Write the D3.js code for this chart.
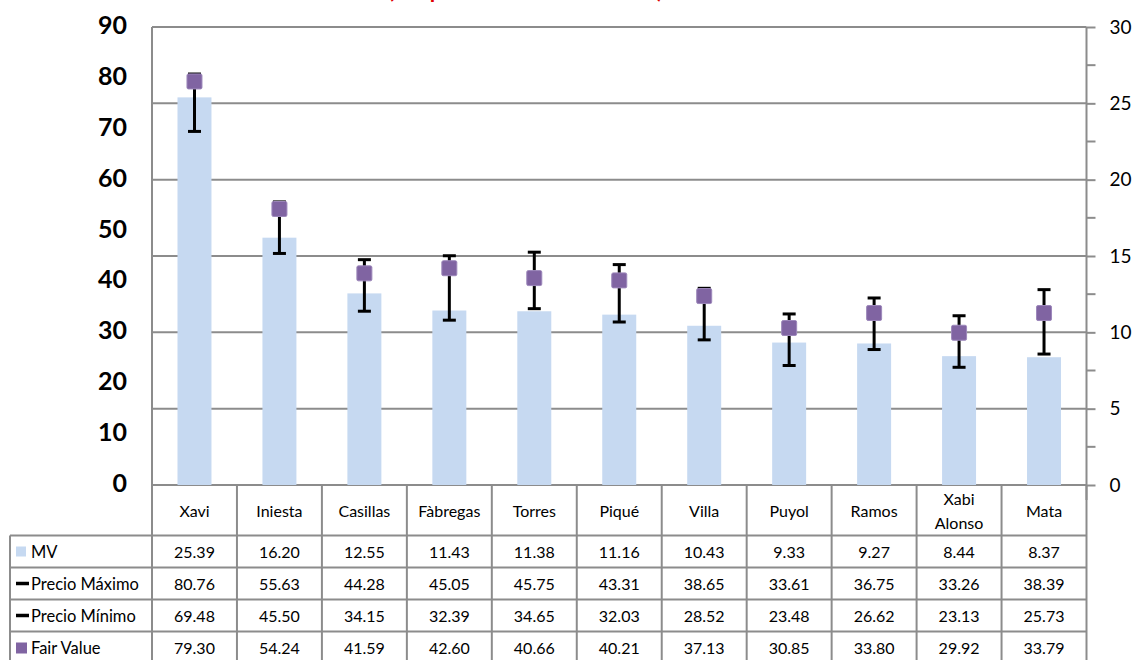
<!DOCTYPE html>
<html>
<head>
<meta charset="utf-8">
<script src="https://cdn.jsdelivr.net/npm/d3@7"></script>
<style>
  body { margin: 0; background: #fff; }
  svg { display: block; font-family: Lato, "Open Sans", sans-serif; }
</style>
</head>
<body>
<svg id="chart" width="1136" height="660"></svg>
<script>
// Players and their valuations
const categories = ["Xavi", "Iniesta", "Casillas", "Fàbregas", "Torres", "Piqué", "Villa", "Puyol", "Ramos", "Xabi Alonso", "Mata"];
const mv = [25.39, 16.20, 12.55, 11.43, 11.38, 11.16, 10.43, 9.33, 9.27, 8.44, 8.37];
const precioMaximo = [80.76, 55.63, 44.28, 45.05, 45.75, 43.31, 38.65, 33.61, 36.75, 33.26, 38.39];
const precioMinimo = [69.48, 45.50, 34.15, 32.39, 34.65, 32.03, 28.52, 23.48, 26.62, 23.13, 25.73];
const fairValue = [79.30, 54.24, 41.59, 42.60, 40.66, 40.21, 37.13, 30.85, 33.80, 29.92, 33.79];
const leftTicks = [0, 10, 20, 30, 40, 50, 60, 70, 80, 90];
const rightTicks = [0, 5, 10, 15, 20, 25, 30];
const rightMinorTicks = [2.5, 7.5, 12.5, 17.5, 22.5, 27.5];
const seriesNames = ["MV", "Precio Máximo", "Precio Mínimo", "Fair Value"];
const titleText = "(Comparativa con valor de mercado)";

const svg = d3.select("#chart");
const gridColor = "#8c8c8c";
const barColor = "#c6d9f1";
const fvColor = "#8064a2";

const plotLeft = 152, plotRight = 1086.5, plotTop = 27, plotBottom = 485;

const x = d3.scaleBand().domain(categories).range([plotLeft, plotRight]);
const yLeft = d3.scaleLinear().domain([0, 90]).range([plotBottom, plotTop]);
const yRight = d3.scaleLinear().domain([0, 30]).range([plotBottom, plotTop]);

// Title line, running off the top edge
svg.append("text")
  .attr("x", 388).attr("y", -2.5)
  .attr("textLength", 275).attr("lengthAdjust", "spacing")
  .attr("font-size", 22).attr("font-weight", "bold")
  .attr("fill", "#e00000")
  .text(titleText);

// Horizontal gridlines follow the secondary axis
svg.append("g").selectAll("line").data(rightTicks).join("line")
  .attr("x1", plotLeft).attr("x2", plotRight)
  .attr("y1", d => yRight(d)).attr("y2", d => yRight(d))
  .attr("stroke", gridColor).attr("stroke-width", 2);

// Left axis line
svg.append("line")
  .attr("x1", plotLeft).attr("x2", plotLeft)
  .attr("y1", plotTop).attr("y2", plotBottom)
  .attr("stroke", gridColor).attr("stroke-width", 2);

// Left axis labels (bold)
svg.append("g").selectAll("text").data(leftTicks).join("text")
  .attr("x", 127).attr("y", d => yLeft(d) - 3)
  .attr("text-anchor", "end").attr("dominant-baseline", "central")
  .attr("font-size", 25).attr("font-weight", "bold").attr("fill", "#000")
  .text(d => d);

// Right axis
const rightAxis = d3.axisRight(yRight).tickValues(rightTicks).tickSize(9).tickPadding(14);
const gR = svg.append("g").attr("transform", `translate(${plotRight},0)`).call(rightAxis);
gR.select(".domain").attr("stroke", gridColor).attr("stroke-width", 2).attr("d", `M0,${plotTop}V${plotBottom + 15}`);
gR.selectAll(".tick line").attr("stroke", gridColor).attr("stroke-width", 2);
gR.selectAll(".tick text").attr("font-size", 19).attr("fill", "#000").attr("font-family", "Lato, sans-serif");
gR.append("g").selectAll("line").data(rightMinorTicks).join("line")
  .attr("x1", 0).attr("x2", 9)
  .attr("y1", d => yRight(d)).attr("y2", d => yRight(d))
  .attr("stroke", gridColor).attr("stroke-width", 2);

// MV bars on the secondary axis
const barW = x.bandwidth() * 0.4;
svg.append("g").selectAll("rect").data(categories).join("rect")
  .attr("x", d => x(d) + (x.bandwidth() - barW) / 2)
  .attr("width", barW)
  .attr("y", (d, i) => yRight(mv[i]))
  .attr("height", (d, i) => plotBottom - yRight(mv[i]))
  .attr("fill", barColor);

// Price range: max/min whiskers
const cx = d => x(d) + x.bandwidth() / 2;
const capW = 13;
const eb = svg.append("g").attr("stroke", "#000").attr("stroke-width", 3);
eb.selectAll("line.v").data(categories).join("line").attr("class", "v")
  .attr("x1", cx).attr("x2", cx)
  .attr("y1", (d, i) => yLeft(precioMaximo[i])).attr("y2", (d, i) => yLeft(precioMinimo[i]));
eb.selectAll("line.max").data(categories).join("line").attr("class", "max")
  .attr("x1", d => cx(d) - capW / 2).attr("x2", d => cx(d) + capW / 2)
  .attr("y1", (d, i) => yLeft(precioMaximo[i])).attr("y2", (d, i) => yLeft(precioMaximo[i]));
eb.selectAll("line.min").data(categories).join("line").attr("class", "min")
  .attr("x1", d => cx(d) - capW / 2).attr("x2", d => cx(d) + capW / 2)
  .attr("y1", (d, i) => yLeft(precioMinimo[i])).attr("y2", (d, i) => yLeft(precioMinimo[i]));

// Fair value markers
const sq = 15;
svg.append("g").selectAll("rect").data(categories).join("rect")
  .attr("x", d => cx(d) - sq / 2)
  .attr("y", (d, i) => yLeft(fairValue[i]) - sq / 2)
  .attr("width", sq).attr("height", sq).attr("rx", 1.5)
  .attr("fill", fvColor).attr("stroke", "#9d88bb").attr("stroke-width", 1);

// Data table below the plot
const tableLeft = 10;
const headerBottom = 535.5;
const rowH = 32;
const rows = [mv, precioMaximo, precioMinimo, fairValue];
const tbl = svg.append("g");
const lineAttrs = s => s.attr("stroke", gridColor).attr("stroke-width", 2);

// column separators
const colEdges = categories.map(d => x(d)).concat([plotRight]);
tbl.selectAll("line.col").data(colEdges).join("line").attr("class", "col")
  .attr("x1", d => d).attr("x2", d => d)
  .attr("y1", plotBottom).attr("y2", 660).call(lineAttrs);
// legend column left edge
tbl.append("line").attr("x1", tableLeft).attr("x2", tableLeft)
  .attr("y1", headerBottom).attr("y2", 660).call(lineAttrs);
// row separators
tbl.selectAll("line.row").data(d3.range(rows.length)).join("line").attr("class", "row")
  .attr("x1", tableLeft).attr("x2", plotRight)
  .attr("y1", i => headerBottom + i * rowH).attr("y2", i => headerBottom + i * rowH).call(lineAttrs);

// category header
categories.forEach(c => {
  const parts = c === "Xabi Alonso" ? ["Xabi", "Alonso"] : [c];
  const t = tbl.append("text")
    .attr("x", cx(c)).attr("text-anchor", "middle")
    .attr("font-size", 16).attr("fill", "#000");
  parts.forEach((p, k) => {
    t.append("tspan").attr("x", cx(c))
      .attr("y", parts.length === 1 ? 510 : 498 + k * 24)
      .attr("dominant-baseline", "central").text(p);
  });
});

// table values
rows.forEach((vals, r) => {
  const yc = headerBottom + r * rowH + rowH / 2;
  tbl.append("g").selectAll("text").data(categories).join("text")
    .attr("x", cx).attr("y", yc)
    .attr("text-anchor", "middle").attr("dominant-baseline", "central")
    .attr("font-size", 16).attr("fill", "#000")
    .text((d, i) => vals[i].toFixed(2));
});

// legend keys and series names
seriesNames.forEach((name, r) => {
  const yc = headerBottom + r * rowH + rowH / 2;
  if (r === 0) {
    tbl.append("rect").attr("x", 16).attr("y", yc - 5).attr("width", 10).attr("height", 10).attr("fill", barColor);
  } else if (r === 3) {
    tbl.append("rect").attr("x", 16).attr("y", yc - 5).attr("width", 11).attr("height", 11).attr("fill", fvColor);
  } else {
    tbl.append("line").attr("x1", 16).attr("x2", 29).attr("y1", yc).attr("y2", yc)
      .attr("stroke", "#000").attr("stroke-width", 3.5);
  }
  tbl.append("text").attr("x", 31).attr("y", yc)
    .attr("dominant-baseline", "central").attr("font-size", 16.5).attr("fill", "#000")
    .text(name);
});
</script>
</body>
</html>
